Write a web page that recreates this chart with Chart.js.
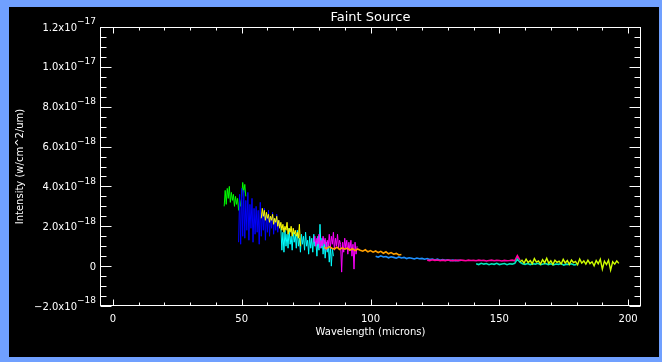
<!DOCTYPE html>
<html lang="en">
<head>
<meta charset="UTF-8">
<title>Faint Source</title>
<script src="https://cdn.jsdelivr.net/npm/chart.js"></script>
<style>
  html, body { margin: 0; padding: 0; background: #70a0ff; }
  #wrap { position: absolute; left: 9px; top: 7px; width: 650px; height: 350px; background: #000; }
</style>
</head>
<body>
<div id="wrap"><canvas id="spec" width="650" height="350"></canvas></div>
<script>
// intensities are in units of 1e-18 w/cm^2/um
const greenX = [43.2, 43.6, 44.0, 44.4, 44.8, 45.2, 45.6, 46.0, 46.4, 46.8, 47.2, 47.6, 48.0, 48.4, 48.8, 49.2, 49.6, 50.0, 50.4, 50.8, 51.2, 51.6];
const greenY = [3.0, 3.8, 3.1, 3.9, 3.4, 4.0, 3.2, 3.7, 3.3, 3.6, 3.0, 3.5, 3.1, 3.4, 2.8, 3.3, 3.0, 3.5, 4.2, 3.7, 4.1, 3.5];

const blueX = [48.8, 49.2, 49.6, 50.0, 50.4, 50.8, 51.2, 51.6, 52.0, 52.4, 52.8, 53.2, 53.6, 54.0, 54.4, 54.8, 55.2, 55.6, 56.0, 56.4, 56.8, 57.2, 57.6, 58.0, 58.4, 58.8, 59.2, 59.6, 60.0, 60.4, 60.8, 61.2, 61.6, 62.0, 62.4, 62.8, 63.2, 63.6, 64.0, 64.4, 64.8];
const blueY = [1.2, 3.6, 1.1, 3.9, 1.5, 3.8, 1.4, 3.3, 1.8, 3.7, 1.3, 3.1, 1.9, 3.4, 1.2, 2.9, 1.6, 3.0, 1.7, 2.8, 1.1, 3.2, 1.5, 2.7, 1.8, 2.9, 1.3, 2.6, 1.7, 2.8, 1.5, 2.5, 1.9, 2.7, 1.6, 2.4, 1.8, 2.6, 1.7, 2.3, 2.0];

const yellowX = [57.6, 58.0, 58.4, 58.8, 59.2, 59.6, 60.0, 60.4, 60.8, 61.2, 61.6, 62.0, 62.4, 62.8, 63.2, 63.6, 64.0, 64.4, 64.8, 65.2, 65.6, 66.0, 66.4, 66.8, 67.2, 67.6, 68.0, 68.4, 68.8, 69.2, 69.6, 70.0, 70.4, 70.8, 71.2, 71.6, 72.0, 72.4, 72.8];
const yellowY = [2.4, 2.9, 2.5, 2.8, 2.3, 2.7, 2.4, 2.6, 2.2, 2.5, 2.3, 2.6, 2.1, 2.4, 2.2, 2.5, 2.0, 2.3, 1.9, 2.2, 1.8, 2.1, 1.7, 2.0, 1.8, 2.2, 1.6, 1.9, 1.7, 2.0, 1.5, 1.9, 1.6, 1.8, 1.5, 1.7, 1.4, 2.1, 1.0];

const cyanX = [65.2, 65.6, 66.0, 66.4, 66.8, 67.2, 67.6, 68.0, 68.4, 68.8, 69.2, 69.6, 70.0, 70.4, 70.8, 71.2, 71.6, 72.0, 72.4, 72.8, 73.2, 73.6, 74.0, 74.4, 74.8, 75.2, 75.6, 76.0, 76.4, 76.8, 77.2, 77.6, 78.0, 78.4, 78.8, 79.2, 79.6, 80.0, 80.4, 80.8, 81.2, 81.6, 82.0, 82.4, 82.8, 83.2, 83.6, 84.0, 84.4, 84.8, 85.2, 85.6];
const cyanY = [1.9, 0.8, 1.7, 0.7, 1.8, 1.0, 1.6, 0.9, 1.9, 1.1, 1.5, 0.8, 1.7, 1.2, 1.6, 0.9, 1.8, 1.0, 1.4, 0.7, 1.6, 1.1, 1.5, 0.8, 1.7, 1.0, 1.3, 0.6, 1.5, 0.9, 1.4, 0.7, 1.6, 1.0, 1.2, 0.5, 1.5, 0.8, 2.1, 0.9, 1.4, 0.6, 1.3, 0.4, 1.2, 0.7, 1.1, 0.2, 1.0, 0.0, 0.9, 0.5];

const magentaX = [78.0, 78.4, 78.8, 79.2, 79.6, 80.0, 80.4, 80.8, 81.2, 81.6, 82.0, 82.4, 82.8, 83.2, 83.6, 84.0, 84.4, 84.8, 85.2, 85.6, 86.0, 86.4, 86.8, 87.2, 87.6, 88.0, 88.4, 88.8, 89.2, 89.6, 90.0, 90.4, 90.8, 91.2, 91.6, 92.0, 92.4, 92.8, 93.2, 93.6, 94.0, 94.4, 94.8];
const magentaY = [1.2, 1.5, 1.0, 1.4, 1.1, 1.6, 0.9, 1.3, 1.0, 1.5, 1.1, 1.4, 0.8, 1.3, 1.0, 1.6, 0.9, 1.5, 1.1, 1.7, 0.8, 1.4, 1.0, 1.6, 0.9, 1.3, 1.1, -0.3, 1.2, 0.7, 1.4, 0.9, 1.3, 0.6, 1.2, 0.8, 1.3, 0.5, 1.1, -0.15, 1.2, 0.6, 1.0];

const orangeX = [82, 83, 84, 85, 86, 87, 88, 89, 90, 91, 92, 93, 94, 95, 96, 97, 98, 99, 100, 101, 102, 103, 104, 105, 106, 107, 108, 109, 110, 111, 112];
const orangeY = [0.95, 0.88, 0.98, 0.90, 0.86, 0.95, 0.84, 0.92, 0.85, 0.90, 0.80, 0.88, 0.78, 0.86, 0.80, 0.75, 0.82, 0.72, 0.78, 0.70, 0.76, 0.68, 0.74, 0.65, 0.72, 0.62, 0.68, 0.60, 0.64, 0.56, 0.58];

const skyX = [102, 103, 104, 105, 106, 107, 108, 109, 110, 111, 112, 113, 114, 115, 116, 117, 118, 119, 120, 121, 122, 123, 124, 125, 126, 127, 128, 129, 130, 131, 132, 133, 134, 135];
const skyY = [0.50, 0.45, 0.52, 0.46, 0.48, 0.42, 0.47, 0.44, 0.40, 0.46, 0.41, 0.44, 0.38, 0.42, 0.40, 0.36, 0.41, 0.37, 0.39, 0.35, 0.38, 0.33, 0.36, 0.31, 0.35, 0.30, 0.33, 0.29, 0.32, 0.28, 0.30, 0.27, 0.29, 0.28];

const pinkX = [122, 123, 124, 125, 126, 127, 128, 129, 130, 131, 132, 133, 134, 135, 136, 137, 138, 139, 140, 141, 142, 143, 144, 145, 146, 147, 148, 149, 150, 151, 152, 153, 154, 155, 156, 157, 158];
const pinkY = [0.30, 0.28, 0.32, 0.29, 0.31, 0.27, 0.30, 0.28, 0.31, 0.29, 0.27, 0.30, 0.28, 0.31, 0.29, 0.27, 0.30, 0.28, 0.29, 0.27, 0.30, 0.28, 0.29, 0.26, 0.28, 0.30, 0.27, 0.29, 0.28, 0.26, 0.29, 0.27, 0.28, 0.30, 0.27, 0.52, 0.30];

const tealX = [141, 142, 143, 144, 145, 146, 147, 148, 149, 150, 151, 152, 153, 154, 155, 156, 157, 158, 159, 160, 161, 162, 163, 164, 165, 166, 167, 168, 169, 170, 171, 172, 173, 174, 175, 176, 177, 178, 179, 180];
const tealY = [0.12, 0.08, 0.14, 0.10, 0.13, 0.07, 0.12, 0.09, 0.14, 0.08, 0.11, 0.13, 0.07, 0.12, 0.10, 0.14, 0.35, 0.20, 0.12, 0.09, 0.13, 0.08, 0.12, 0.10, 0.14, 0.07, 0.11, 0.13, 0.08, 0.12, 0.06, 0.11, 0.09, 0.13, 0.05, 0.10, 0.08, 0.12, 0.06, 0.09];

const limeX = [158.0, 158.8, 159.6, 160.4, 161.2, 162.0, 162.8, 163.6, 164.4, 165.2, 166.0, 166.8, 167.6, 168.4, 169.2, 170.0, 170.8, 171.6, 172.4, 173.2, 174.0, 174.8, 175.6, 176.4, 177.2, 178.0, 178.8, 179.6, 180.4, 181.2, 182.0, 182.8, 183.6, 184.4, 185.2, 186.0, 186.8, 187.6, 188.4, 189.2, 190.0, 190.8, 191.6, 192.4, 193.2, 194.0, 194.8, 195.6, 196.4];
const limeY = [0.22, 0.30, 0.15, 0.35, 0.18, 0.28, 0.12, 0.38, 0.20, 0.26, 0.10, 0.32, 0.17, 0.40, 0.14, 0.27, 0.08, 0.30, 0.19, 0.25, 0.11, 0.34, 0.16, 0.28, 0.09, 0.31, 0.18, 0.24, 0.07, 0.36, 0.15, 0.26, 0.10, 0.30, 0.13, 0.22, 0.02, 0.28, 0.12, 0.35, -0.15, 0.25, 0.08, 0.30, -0.20, 0.22, 0.10, 0.26, 0.14];

// axis ticks
const xTicks = [0, 50, 100, 150, 200];
const yTicks = [-2, 0, 2, 4, 6, 8, 10, 12];
const yTickMant = ['\u22122.0x10', '0', '2.0x10', '4.0x10', '6.0x10', '8.0x10', '1.0x10', '1.2x10'];
const yTickExp = ['\u221218', '', '\u221218', '\u221218', '\u221218', '\u221218', '\u221217', '\u221217'];

// [x, y, colour, line width]
const segments = [
  [greenX, greenY, '#00ff00', 1],
  [blueX, blueY, '#0000ff', 1],
  [cyanX, cyanY, '#00ffff', 1],
  [yellowX, yellowY, '#ffff00', 1],
  [magentaX, magentaY, '#ff00ff', 1],
  [orangeX, orangeY, '#ffa000', 1.6],
  [skyX, skyY, '#1e90ff', 1.6],
  [pinkX, pinkY, '#ff00a0', 1.6],
  [tealX, tealY, '#00e8c0', 1.6],
  [limeX, limeY, '#d0ff00', 1.4]
];

const FONT = '"DejaVu Sans", sans-serif';

// IDL style box with inward ticks and exponent labels
const idlFrame = {
  id: 'idlFrame',
  afterDraw(chart) {
    const { ctx, chartArea: a, scales: { x, y } } = chart;
    const L = Math.round(a.left) + 0.5, R = Math.round(a.right) - 0.5;
    const T = Math.round(a.top) + 0.5, B = Math.round(a.bottom) - 0.5;
    ctx.save();
    ctx.strokeStyle = '#fff';
    ctx.lineWidth = 1;
    ctx.strokeRect(L, T, R - L, B - T);
    ctx.beginPath();
    for (let v = 0; v <= 200; v += 10) {
      const px = Math.round(x.getPixelForValue(v)) + 0.5;
      const len = v % 50 === 0 ? 6 : 3;
      ctx.moveTo(px, B); ctx.lineTo(px, B - len);
      ctx.moveTo(px, T); ctx.lineTo(px, T + len);
    }
    for (let v = -2; v <= 12; v += 0.5) {
      const py = Math.round(y.getPixelForValue(v)) + 0.5;
      const len = v % 2 === 0 ? 11 : 6;
      ctx.moveTo(L, py); ctx.lineTo(L + len, py);
      ctx.moveTo(R, py); ctx.lineTo(R - len, py);
    }
    ctx.stroke();

    ctx.fillStyle = '#fff';
    ctx.textAlign = 'right';
    ctx.textBaseline = 'middle';
    yTicks.forEach((v, i) => {
      const py = y.getPixelForValue(v);
      let xr = a.left - 4;
      if (yTickExp[i]) {
        ctx.font = '9px ' + FONT;
        ctx.fillText(yTickExp[i], xr, py - 5);
        xr -= ctx.measureText(yTickExp[i]).width;
      }
      ctx.font = '10px ' + FONT;
      ctx.fillText(yTickMant[i], xr, py + 1);
    });
    ctx.restore();
  }
};

new Chart(document.getElementById('spec'), {
  type: 'line',
  data: {
    datasets: segments.map(([xs, ys, color, w], i) => ({
      data: xs.map((v, j) => ({ x: v, y: ys[j] })),
      borderColor: color,
      borderWidth: w,
      pointRadius: 0,
      tension: 0,
      fill: false,
      order: segments.length - i
    }))
  },
  options: {
    responsive: false,
    animation: false,
    layout: { padding: { top: 0, right: 18, left: 0, bottom: 0 } },
    plugins: {
      legend: { display: false },
      tooltip: { enabled: false },
      title: {
        display: true,
        text: 'Faint Source',
        color: '#fff',
        fullSize: false,
        font: { family: FONT, size: 13, weight: 'normal', lineHeight: 1 },
        padding: { top: 4, bottom: 3 }
      }
    },
    scales: {
      x: {
        type: 'linear',
        min: -5,
        max: 205,
        afterBuildTicks: s => { s.ticks = xTicks.map(v => ({ value: v })); },
        afterFit: s => { s.height = 51; },
        grid: { display: false, drawTicks: false },
        border: { display: false },
        ticks: { color: '#fff', font: { family: FONT, size: 10 }, padding: 7, maxRotation: 0, autoSkip: false },
        title: {
          display: true,
          text: 'Wavelength (microns)',
          color: '#fff',
          font: { family: FONT, size: 10 },
          padding: { top: 0, bottom: 19 }
        }
      },
      y: {
        type: 'linear',
        min: -2,
        max: 12,
        afterFit: s => { s.width = 91; },
        grid: { display: false, drawTicks: false },
        border: { display: false },
        ticks: { display: false },
        title: {
          display: true,
          text: 'Intensity (w/cm^2/um)',
          color: '#fff',
          font: { family: FONT, size: 10 },
          padding: { top: 5, bottom: 0 }
        }
      }
    }
  },
  plugins: [idlFrame]
});
</script>
</body>
</html>
